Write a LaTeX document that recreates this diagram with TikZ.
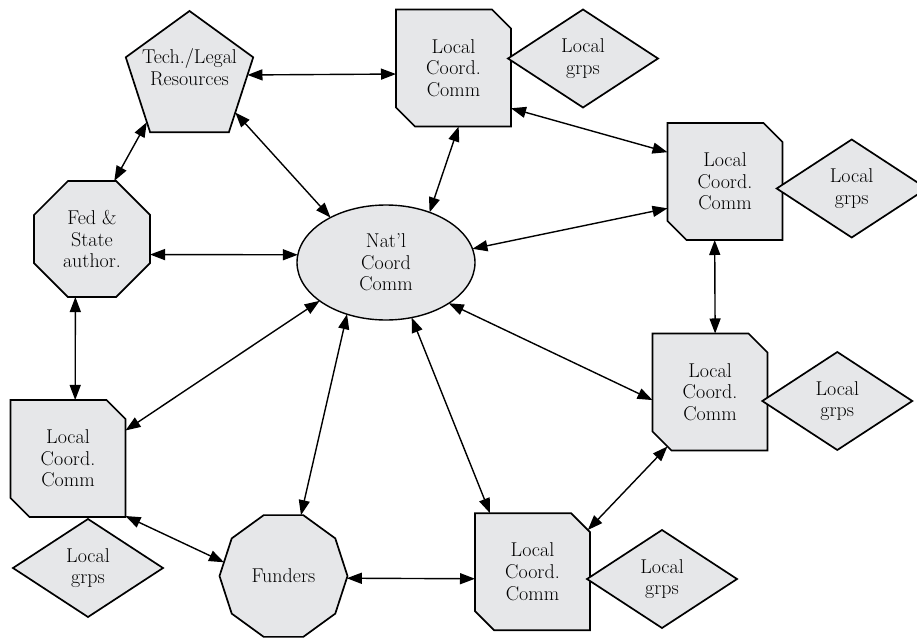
\documentclass[tikz,border=0pt]{standalone}
\usetikzlibrary{shapes.geometric,shapes.misc,arrows.meta}
\definecolor{shapefill}{RGB}{230,231,233}
\begin{document}
\begin{tikzpicture}[x=1pt,y=-1pt,
  shp/.style={draw=black, line width=1.7pt, fill=shapefill, inner sep=0pt, outer sep=0pt},
  lbl/.style={font=\fontsize{20}{21.7}\selectfont, align=center, inner sep=0pt},
  lcc/.style={shp, lbl, chamfered rectangle, chamfered rectangle corners={north east,south west},
    chamfered rectangle xsep=9.5pt, chamfered rectangle ysep=9.5pt,
    minimum width=115pt, minimum height=117pt},
  grp/.style={shp, lbl, diamond, minimum width=150pt, minimum height=98pt},
  conn/.style={{Triangle[length=15pt,width=11pt]}-{Triangle[length=15pt,width=11pt]}, line width=1.4pt}
]
\useasboundingbox (0,0) rectangle (917,642);

% main shapes
\node[shp, regular polygon, regular polygon sides=5, minimum size=134pt] (tech) at (189.5,78) {};
\node[lbl] (techT) at (189.5,67) {Tech./Legal\\Resources};
\node[shp, lbl, regular polygon, regular polygon sides=8, minimum size=125.6pt] (fed) at (92,239) {Fed \&\\State\\author.};
\node[shp, lbl, ellipse, line width=1.4pt, minimum width=178pt, minimum height=115pt] (nat) at (386,262.5) {Nat'l\\Coord\\Comm};
\node[shp, lbl, regular polygon, regular polygon sides=10, minimum size=128pt] (fund) at (283.5,576) {Funders};

% local coordination committees
\node[lcc] (L1) at (453.5,68) {Local\\Coord.\\Comm};
\node[lcc] (L2) at (725,181.5) {Local\\Coord.\\Comm};
\node[lcc] (L3) at (710,392) {Local\\Coord.\\Comm};
\node[lcc] (L4) at (532.5,571.7) {Local\\Coord.\\Comm};
\node[lcc] (L5) at (68,458.5) {Local\\Coord.\\Comm};

% local groups
\node[grp] (G1) at (583,58.5) {Local\\grps};
\node[grp] (G2) at (851.7,188.5) {Local\\grps};
\node[grp] (G3) at (837.3,401) {Local\\grps};
\node[grp] (G4) at (662,579) {Local\\grps};
\node[grp] (G5) at (88,568) {Local\\grps};

% connectors
\draw[conn] (tech.3) -- (L1.186);
\draw[conn] (tech.226) -- (fed.69);
\draw[conn] (tech.323) -- (nat.141);
\draw[conn] (L1.275) -- (nat.49);
\draw[conn] (L1.325) -- (L2.153);
\draw[conn] (L2.205) -- (nat.9);
\draw[conn] (L2.260) -- (L3.85);
\draw[conn] (fed.345) -- (nat.175);
\draw[conn] (fed.254) -- (L5.83);
\draw[conn] (nat.210) -- (L5.26);
\draw[conn] (nat.233) -- (fund.74);
\draw[conn] (nat.295) -- (L4.126);
\draw[conn] (nat.327) -- (L3.188);
\draw[conn] (L3.232) -- (L4.37);
\draw[conn] (L5.315) -- (fund.167);
\draw[conn] (fund.-2) -- (L4.187);
\end{tikzpicture}
\end{document}
